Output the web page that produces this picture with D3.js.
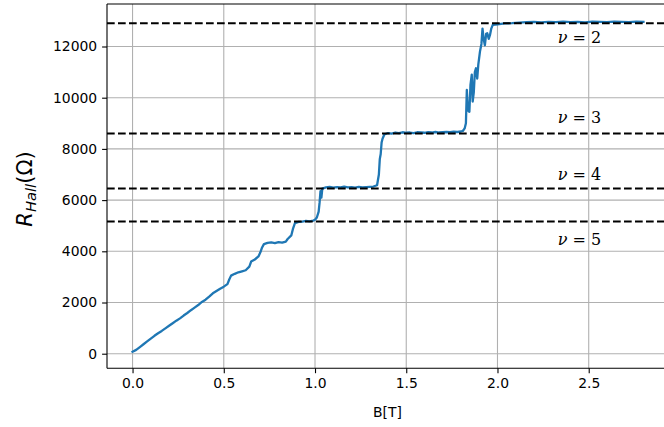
<!DOCTYPE html>
<html>
<head>
<meta charset="utf-8">
<script src="https://cdn.jsdelivr.net/npm/d3@7"></script>
<style>
  html, body { margin: 0; padding: 0; background: #fff; }
  svg { display: block; }
  .tick text { font-family: "DejaVu Sans", sans-serif; font-size: 13.9px; fill: #000; }
</style>
</head>
<body>
<svg id="chart" width="664" height="427"></svg>
<script>
// Hall resistance sweep: magnetic field B [T] and measured R_Hall [Ohm]
const fieldB = [
  0.00, 0.02, 0.04, 0.06, 0.08, 0.10, 0.12, 0.14, 0.16, 0.18,
  0.20, 0.22, 0.24, 0.26, 0.28, 0.30, 0.32, 0.34, 0.36, 0.38,
  0.40, 0.42, 0.44, 0.46, 0.48, 0.50, 0.52, 0.53, 0.54, 0.56,
  0.58, 0.60, 0.62, 0.64, 0.65, 0.67, 0.69, 0.70, 0.71, 0.72,
  0.74, 0.76, 0.78, 0.80, 0.82, 0.84, 0.85, 0.87, 0.88, 0.89,
  0.91, 0.93, 0.95, 0.97, 0.99, 1.00, 1.01, 1.02, 1.025, 1.03,
  1.035, 1.04, 1.06, 1.08, 1.10, 1.12, 1.14, 1.16, 1.18, 1.20,
  1.22, 1.24, 1.26, 1.28, 1.30, 1.32, 1.34, 1.35, 1.355, 1.36,
  1.365, 1.37, 1.38, 1.40, 1.42, 1.44, 1.46, 1.48, 1.50, 1.52,
  1.54, 1.56, 1.58, 1.60, 1.62, 1.64, 1.66, 1.68, 1.70, 1.72,
  1.74, 1.76, 1.78, 1.80, 1.81, 1.82, 1.827, 1.832, 1.838, 1.846,
  1.852, 1.859, 1.864, 1.870, 1.876, 1.882, 1.889, 1.895, 1.904, 1.912,
  1.918, 1.924, 1.931, 1.938, 1.944, 1.952, 1.959, 1.966, 1.974, 1.99,
  2.01, 2.04, 2.08, 2.12, 2.16, 2.20, 2.24, 2.28, 2.32, 2.36,
  2.40, 2.44, 2.48, 2.52, 2.56, 2.60, 2.64, 2.68, 2.72, 2.76,
  2.80
];
const hallR = [
  80, 150, 260, 370, 480, 590, 700, 800, 890, 990,
  1090, 1190, 1290, 1380, 1490, 1590, 1700, 1800, 1900, 2020,
  2110, 2230, 2360, 2450, 2540, 2620, 2720, 2900, 3050, 3120,
  3180, 3220, 3260, 3400, 3600, 3680, 3800, 3950, 4150, 4280,
  4330, 4350, 4320, 4360, 4340, 4380, 4480, 4620, 4900, 5100,
  5150, 5160, 5190, 5170, 5200, 5230, 5320, 5550, 5900, 6350,
  6100, 6450, 6500, 6520, 6490, 6510, 6500, 6530, 6500, 6510,
  6490, 6520, 6500, 6510, 6520, 6530, 6580, 7000, 7600, 7800,
  8250, 8400, 8560, 8620, 8600, 8640, 8620, 8650, 8630, 8640,
  8620, 8650, 8640, 8630, 8650, 8640, 8660, 8640, 8650, 8660,
  8650, 8670, 8660, 8680, 8700, 8800, 9000, 10300, 9500, 9450,
  10500, 10900, 9850, 10200, 11000, 11150, 10750, 11300, 11800, 12100,
  12700, 12300, 12050, 12500, 12520, 12300, 12450, 12700, 12840, 12860,
  12870, 12900, 12910, 12930, 12950, 12960, 12940, 12960, 12950, 12970,
  12950, 12960, 12940, 12970, 12960, 12950, 12970, 12960, 12950, 12970,
  12960
];

// Quantized plateaus h/(nu e^2) and their annotations
const fillingFactors = [2, 3, 4, 5];
const plateauR = [12906, 8604, 6453, 5162];
const labelB = [2.33, 2.33, 2.33, 2.33];
const labelR = [12140, 9000, 6790, 4250];

const xTicks = [0.0, 0.5, 1.0, 1.5, 2.0, 2.5];
const yTicks = [0, 2000, 4000, 6000, 8000, 10000, 12000];

const svg = d3.select("#chart");
const plot = { left: 107, right: 669, top: 4, bottom: 368.3 };

const x = d3.scaleLinear().domain([-0.14, 2.94]).range([plot.left, plot.right]);
const y = d3.scaleLinear().domain([-570, 13660]).range([plot.bottom, plot.top]);

// grid
const grid = svg.append("g");
grid.selectAll("line.gx").data(xTicks).join("line")
  .attr("x1", d => x(d)).attr("x2", d => x(d))
  .attr("y1", plot.top).attr("y2", plot.bottom)
  .attr("stroke", "#b0b0b0").attr("stroke-width", 1.1);
grid.selectAll("line.gy").data(yTicks).join("line")
  .attr("x1", plot.left).attr("x2", plot.right)
  .attr("y1", d => y(d)).attr("y2", d => y(d))
  .attr("stroke", "#b0b0b0").attr("stroke-width", 1.1);

// measured curve
const pts = fieldB.map((b, i) => [b, hallR[i]]);
svg.append("path")
  .datum(pts)
  .attr("fill", "none")
  .attr("stroke", "#1f77b4")
  .attr("stroke-width", 2.3)
  .attr("stroke-linejoin", "round")
  .attr("stroke-linecap", "square")
  .attr("d", d3.line().x(d => x(d[0])).y(d => y(d[1])));

// plateau reference lines
svg.append("g").selectAll("line").data(plateauR).join("line")
  .attr("x1", plot.left).attr("x2", plot.right)
  .attr("y1", d => y(d)).attr("y2", d => y(d))
  .attr("stroke", "#000").attr("stroke-width", 2.1)
  .attr("stroke-dasharray", "7.7,3.3");

// annotations
const ann = svg.append("g")
  .attr("font-family", "'DejaVu Serif', serif")
  .attr("font-size", 16);
fillingFactors.forEach((n, i) => {
  const t = ann.append("text")
    .attr("x", x(labelB[i])).attr("y", y(labelR[i]))
    .attr("fill", "#000");
  t.append("tspan").attr("font-style", "italic").text("ν");
  t.append("tspan").text(" = " + n);
});

// axes
const xAxis = d3.axisBottom(x).tickValues(xTicks).tickFormat(d3.format(".1f"))
  .tickSize(4.9).tickPadding(4.9);
const gx = svg.append("g").attr("transform", `translate(0,${plot.bottom})`).call(xAxis);
gx.select(".domain").remove();
gx.selectAll(".tick line").attr("stroke", "#000").attr("stroke-width", 1.1);

const yAxis = d3.axisLeft(y).tickValues(yTicks).tickFormat(d3.format("d"))
  .tickSize(4.9).tickPadding(4.9);
const gy = svg.append("g").attr("transform", `translate(${plot.left},0)`).call(yAxis);
gy.select(".domain").remove();
gy.selectAll(".tick line").attr("stroke", "#000").attr("stroke-width", 1.1);

// spines
const spines = svg.append("g").attr("stroke", "#000").attr("stroke-width", 1.1);
spines.append("line").attr("x1", plot.left).attr("x2", plot.left).attr("y1", plot.top).attr("y2", plot.bottom);
spines.append("line").attr("x1", plot.left).attr("x2", plot.right).attr("y1", plot.bottom).attr("y2", plot.bottom);
spines.append("line").attr("x1", plot.left).attr("x2", plot.right).attr("y1", plot.top).attr("y2", plot.top);
spines.append("line").attr("x1", plot.right).attr("x2", plot.right).attr("y1", plot.top).attr("y2", plot.bottom);

// axis titles
svg.append("text")
  .attr("x", (plot.left + plot.right) / 2 - 0.5).attr("y", 417)
  .attr("text-anchor", "middle")
  .attr("font-family", "'DejaVu Sans', sans-serif").attr("font-size", 13.9)
  .text("B[T]");

const yl = svg.append("text")
  .attr("transform", "translate(32,189) rotate(-90)")
  .attr("text-anchor", "middle")
  .attr("font-family", "'DejaVu Sans', sans-serif").attr("font-size", 21);
yl.append("tspan").attr("font-style", "italic").text("R");
yl.append("tspan").attr("font-style", "italic").attr("font-size", 14.7).attr("dy", 3.5).text("Hall");
yl.append("tspan").attr("dy", -3.5).text("(Ω)");
</script>
</body>
</html>
